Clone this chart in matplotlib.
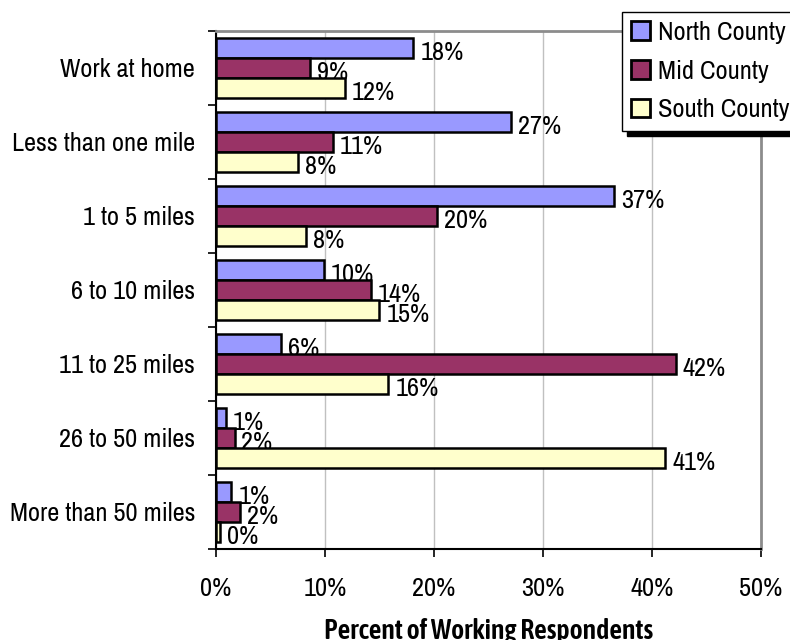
import numpy as np
import matplotlib
matplotlib.use("Agg")
import matplotlib.pyplot as plt

plt.rcParams['font.family'] = ['Archivo Narrow', 'DejaVu Sans']
plt.rcParams['font.stretch'] = 'condensed'

# commute distance categories, top to bottom
categories = ["Work at home", "Less than one mile", "1 to 5 miles", "6 to 10 miles",
              "11 to 25 miles", "26 to 50 miles", "More than 50 miles"]
series_names = ["North County", "Mid County", "South County"]

# percent of working respondents
north = [18.1, 27.1, 36.5, 9.9, 6.0, 0.9, 1.4]
mid = [8.6, 10.7, 20.3, 14.2, 42.2, 1.7, 2.2]
south = [11.8, 7.5, 8.3, 15.0, 15.8, 41.2, 0.4]
# the labels printed next to the bars
north_lbl = ["18%", "27%", "37%", "10%", "6%", "1%", "1%"]
mid_lbl = ["9%", "11%", "20%", "14%", "42%", "2%", "2%"]
south_lbl = ["12%", "8%", "8%", "15%", "16%", "41%", "0%"]

xticks = [0, 10, 20, 30, 40, 50]
xtick_labels = ["0%", "10%", "20%", "30%", "40%", "50%"]

colors = ["#9999ff", "#993366", "#ffffcc"]

fig = plt.figure(figsize=(7.9, 6.4), dpi=100)
ax = fig.add_axes([0.2734, 0.1422, 0.6899, 0.8094])

n = len(categories)
y = np.arange(n)
h = 0.27
fs = 19

vals = [north, mid, south]
lbls = [north_lbl, mid_lbl, south_lbl]
for i in range(3):
    pos = y + (i - 1) * h
    ax.barh(pos, vals[i], height=h, color=colors[i], edgecolor="black",
            linewidth=1.8, label=series_names[i], zorder=3)
    for p, v, t in zip(pos, vals[i], lbls[i]):
        ax.annotate(t, (v, p), xytext=(5, -3.5), textcoords="offset points",
                    ha="left", va="center", fontsize=fs, zorder=2)

ax.set_ylim(n - 0.5, -0.5)
ax.set_xlim(0, 50)

ax.set_yticks(np.arange(n + 1) - 0.5)
ax.set_yticklabels([])
ax.set_yticks(y, minor=True)
ax.set_yticklabels(categories, minor=True, fontsize=fs)
ax.tick_params(axis="y", which="minor", length=0, pad=15)
ax.tick_params(axis="y", which="major", length=6, width=1.2, direction="out")

ax.set_xticks(xticks)
ax.set_xticklabels(xtick_labels, fontsize=fs)
ax.tick_params(axis="x", length=6, width=1.2, direction="out", pad=14)

ax.grid(axis="x", color="#c0c0c0", linewidth=1, zorder=0)
ax.set_axisbelow(True)

for s in ["left", "bottom"]:
    ax.spines[s].set_linewidth(1.5)
    ax.spines[s].set_color("black")
for s in ["top", "right"]:
    ax.spines[s].set_linewidth(2)
    ax.spines[s].set_color("#8c8c8c")

ax.set_xlabel("Percent of Working Respondents", fontsize=20, fontweight="semibold",
              family=["Asap Condensed", "DejaVu Sans"], labelpad=13)

leg = fig.legend(loc="upper left", bbox_to_anchor=(0.787, 0.982), fontsize=fs,
                 frameon=True, fancybox=False, edgecolor="black",
                 handlelength=0.72, handleheight=0.7, handletextpad=0.3,
                 labelspacing=0.6, borderpad=0.35, borderaxespad=0,
                 shadow={"ox": 4, "oy": -4, "color": "black", "alpha": 1})
leg.get_frame().set_linewidth(1)
for p in leg.get_patches():
    p.set_linewidth(2)

fig.savefig("out.png", dpi=100)
